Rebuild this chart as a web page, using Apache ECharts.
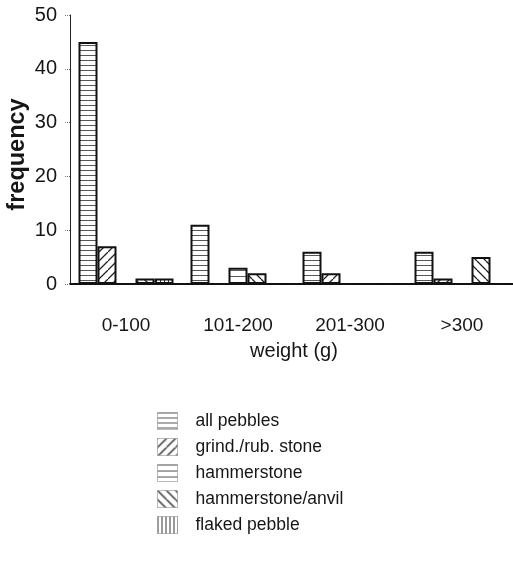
<!DOCTYPE html>
<html>
<head>
<meta charset="utf-8">
<script src="https://cdn.jsdelivr.net/npm/echarts@6/dist/echarts.min.js"></script>
<style>
  html, body { margin: 0; padding: 0; background: #fff; }
  #chart { width: 513px; height: 572px; }
</style>
</head>
<body>
<div id="chart"></div>
<script>
// Weight classes (x axis)
const categories = ['0-100', '101-200', '201-300', '>300'];

// Frequency of each artefact type per weight class
const seriesNames = ['all pebbles', 'grind./rub. stone', 'hammerstone', 'hammerstone/anvil', 'flaked pebble'];
const allPebbles = [45, 11, 6, 6];
const grindRubStone = [7, 0, 2, 1];
const hammerstone = [0, 3, 0, 0];
const hammerstoneAnvil = [1, 2, 0, 5];
const flakedPebble = [1, 0, 0, 0];

const yTicks = [0, 10, 20, 30, 40, 50];

const FONT = '"Liberation Sans", Arial, sans-serif';
const INK = '#161616';

// Small repeating canvas tiles used as hatch fills
function hatch(kind) {
  const c = document.createElement('canvas');
  let w = 10, h = 10;
  if (kind === 'hlineFine') { w = 8; h = 5; }
  if (kind === 'hlineWide') { w = 8; h = 6; }
  if (kind === 'vline') { w = 4; h = 8; }
  if (kind === 'slash' || kind === 'backslash') { w = 9; h = 9; }
  c.width = w; c.height = h;
  const g = c.getContext('2d');
  g.fillStyle = '#fff';
  g.fillRect(0, 0, w, h);
  g.lineWidth = 1;
  if (kind === 'hlineFine') {
    g.strokeStyle = '#555';
    g.beginPath(); g.moveTo(0, 0.5); g.lineTo(w, 0.5); g.stroke();
  } else if (kind === 'hlineWide') {
    g.strokeStyle = '#5a5a5a';
    g.beginPath(); g.moveTo(0, 0.5); g.lineTo(w, 0.5); g.stroke();
  } else if (kind === 'vline') {
    g.strokeStyle = '#333';
    g.beginPath(); g.moveTo(0.5, 0); g.lineTo(0.5, h); g.stroke();
  } else if (kind === 'slash') {
    g.strokeStyle = '#222';
    g.lineWidth = 1.3;
    g.beginPath();
    g.moveTo(0, h); g.lineTo(w, 0);
    g.moveTo(-w, h); g.lineTo(0, 0);
    g.moveTo(w, 2 * h); g.lineTo(2 * w, h);
    g.stroke();
  } else if (kind === 'backslash') {
    g.strokeStyle = '#222';
    g.lineWidth = 1.3;
    g.beginPath();
    g.moveTo(0, 0); g.lineTo(w, h);
    g.moveTo(-w, 0); g.lineTo(0, h);
    g.moveTo(w, 0); g.lineTo(2 * w, h);
    g.stroke();
  }
  return { image: c, repeat: 'repeat' };
}

const fills = [
  hatch('hlineFine'),
  hatch('slash'),
  hatch('hlineWide'),
  hatch('backslash'),
  hatch('vline')
];
const values = [allPebbles, grindRubStone, hammerstone, hammerstoneAnvil, flakedPebble];

const series = seriesNames.map((name, i) => ({
  name: name,
  type: 'bar',
  data: values[i],
  barWidth: 19,
  barGap: '0%',
  itemStyle: {
    color: fills[i],
    borderColor: '#111',
    borderWidth: 2
  }
}));

const chart = echarts.init(document.getElementById('chart'), null, { renderer: 'canvas' });
chart.setOption({
  animation: false,
  backgroundColor: '#fff',
  grid: { left: 70, top: 15, width: 448, height: 269, containLabel: false, outerBoundsMode: 'none' },
  xAxis: {
    type: 'category',
    data: categories,
    name: 'weight (g)',
    nameLocation: 'middle',
    nameGap: 57,
    nameTextStyle: { fontFamily: FONT, fontSize: 20, color: INK },
    axisLine: { lineStyle: { color: '#111', width: 2 } },
    axisTick: { alignWithLabel: true, length: 13, lineStyle: { color: '#666', type: 'dotted', width: 1 } },
    axisLabel: { margin: 32, fontFamily: FONT, fontSize: 19, color: INK }
  },
  yAxis: {
    type: 'value',
    min: yTicks[0],
    max: yTicks[yTicks.length - 1],
    interval: 10,
    name: 'frequency',
    nameLocation: 'middle',
    nameGap: 40,
    nameMoveOverlap: false,
    nameTextStyle: { fontFamily: FONT, fontSize: 23.5, fontWeight: 'bold', color: INK, padding: [0, 10, 0, 0] },
    axisLine: { show: true, lineStyle: { color: '#222', width: 1 } },
    axisTick: { show: true, length: 6, lineStyle: { color: '#777', type: 'dotted', width: 1 } },
    axisLabel: { margin: 13, fontFamily: FONT, fontSize: 20, color: INK },
    splitLine: { show: false }
  },
  legend: {
    orient: 'vertical',
    left: 152,
    top: 407,
    padding: 5,
    itemWidth: 20,
    itemHeight: 17,
    itemGap: 8,
    icon: 'rect',
    data: seriesNames,
    itemStyle: { borderColor: '#777', borderWidth: 1, borderType: 'dotted' },
    textStyle: { fontFamily: FONT, fontSize: 17.5, lineHeight: 18, color: INK, padding: [0, 0, 0, 13] }
  },
  series: series
});
</script>
</body>
</html>
